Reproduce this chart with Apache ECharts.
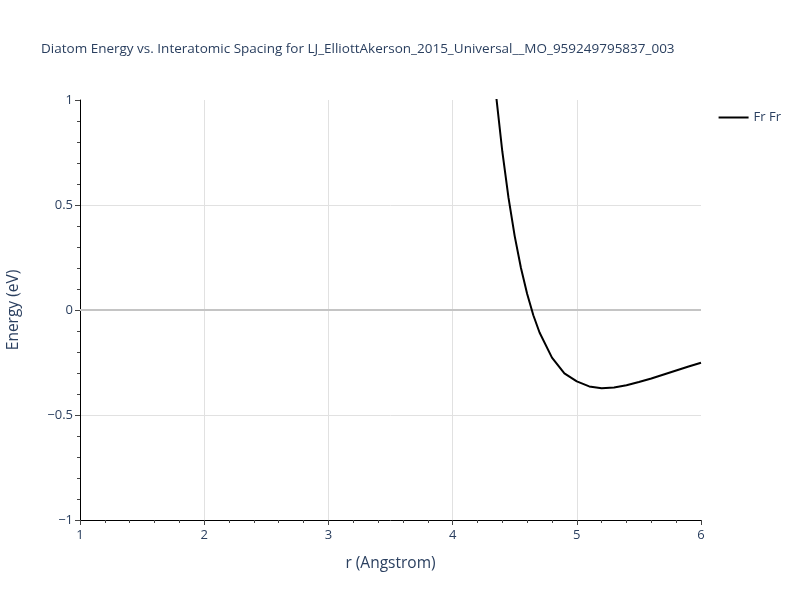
<!DOCTYPE html>
<html><head><meta charset="utf-8">
<script src="https://cdn.jsdelivr.net/npm/echarts@6/dist/echarts.min.js"></script>
<style>html,body{margin:0;padding:0;background:#fff}#c{width:800px;height:600px}</style>
</head><body><div id="c"></div>
<script>
const rValues = [4.30, 4.35, 4.40, 4.45, 4.50, 4.55, 4.60, 4.65, 4.70, 4.80, 4.90, 5.00, 5.10, 5.20, 5.30, 5.40, 5.50, 5.60, 5.70, 5.80, 5.90, 6.00];
const energyFrFr = [1.344, 1.023, 0.756, 0.535, 0.352, 0.201, 0.077, -0.025, -0.107, -0.227, -0.302, -0.340, -0.364, -0.373, -0.369, -0.358, -0.343, -0.326, -0.307, -0.288, -0.269, -0.251];
const seriesName = 'Fr Fr';
const titleText = 'Diatom Energy vs. Interatomic Spacing for LJ_ElliottAkerson_2015_Universal__MO_959249795837_003';
const xTicks = [1, 2, 3, 4, 5, 6];
const yTicks = [-1, -0.5, 0, 0.5, 1];

const font = '"Open Sans", "DejaVu Sans", sans-serif';
const txt = '#2a3f5f';
const chart = echarts.init(document.getElementById('c'), null, {renderer: 'canvas'});
chart.setOption({
  animation: false,
  backgroundColor: '#fff',
  title: {text: titleText, left: 36, top: 37, textStyle: {fontFamily: font, fontSize: 13.5, fontWeight: 'normal', color: txt}},
  legend: {
    right: 14, top: 106, itemWidth: 30, itemHeight: 2, icon: 'rect', itemGap: 5,
    textStyle: {fontFamily: font, fontSize: 13, color: txt},
    data: [{name: seriesName, icon: 'rect'}]
  },
  grid: {left: 80, right: 99, top: 100, bottom: 80, containLabel: false, outerBoundsMode: 'none'},
  xAxis: {
    type: 'value', min: 1, max: 6, interval: 1,
    name: 'r (Angstrom)', nameLocation: 'middle', nameGap: 36,
    nameTextStyle: {fontFamily: font, fontSize: 15.5, color: txt},
    axisLine: {show: true, onZero: false, lineStyle: {color: '#000', width: 1}},
    axisTick: {show: true, length: 5, lineStyle: {color: '#444'}},
    minorTick: {show: true, splitNumber: 5, length: 3, lineStyle: {color: '#444'}},
    axisLabel: {fontFamily: font, fontSize: 13, color: txt, margin: 9, formatter: v => xTicks.includes(v) ? String(v) : ''},
    splitLine: {show: true, showMinLine: false, showMaxLine: false, lineStyle: {color: '#e1e1e1', width: 1}},
    minorSplitLine: {show: false}
  },
  yAxis: {
    type: 'value', min: -1, max: 1, interval: 0.5,
    name: 'Energy (eV)', nameLocation: 'middle', nameGap: 58,
    nameTextStyle: {fontFamily: font, fontSize: 15.5, color: txt},
    axisLine: {show: true, onZero: false, lineStyle: {color: '#000', width: 1}},
    axisTick: {show: true, length: 5, lineStyle: {color: '#444'}},
    minorTick: {show: true, splitNumber: 5, length: 3, lineStyle: {color: '#444'}},
    axisLabel: {fontFamily: font, fontSize: 13, color: txt, margin: 7,
      formatter: v => yTicks.includes(v) ? String(v).replace('-', '\u2212') : ''},
    splitLine: {show: true, showMinLine: false, showMaxLine: false, lineStyle: {color: '#e1e1e1', width: 1}}
  },
  series: [
    {
      name: seriesName, type: 'line', showSymbol: false, clip: true,
      lineStyle: {color: '#000', width: 2}, itemStyle: {color: '#000'},
      data: rValues.map((r, i) => [r, energyFrFr[i]]),
      markLine: {
        silent: true, symbol: 'none', label: {show: false},
        lineStyle: {color: '#c4c4c4', width: 2, type: 'solid'},
        data: [{yAxis: 0}], z: 1
      },
      z: 3
    }
  ]
});
</script></body></html>
